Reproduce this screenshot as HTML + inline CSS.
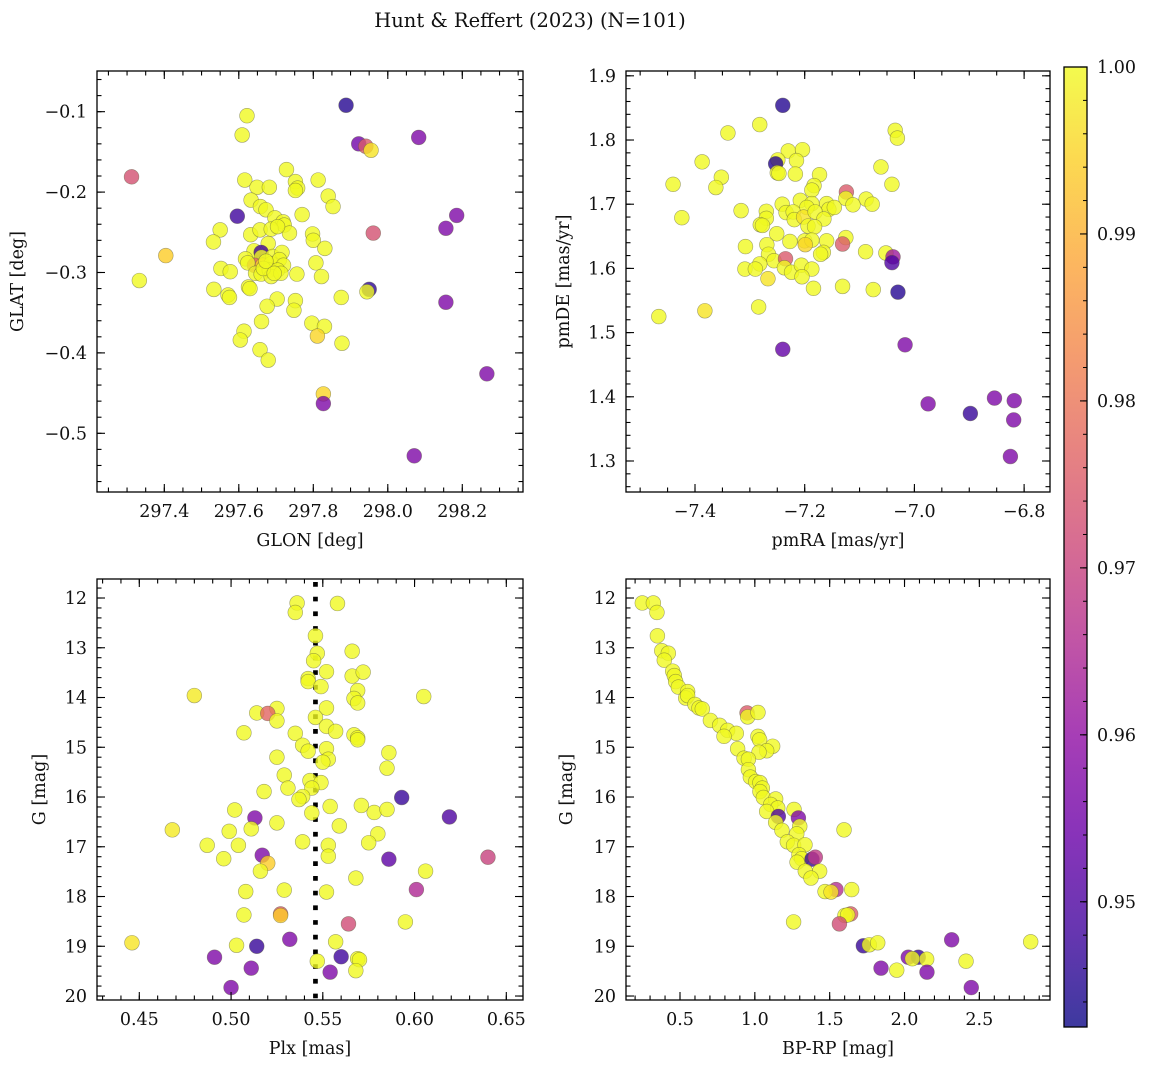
<!DOCTYPE html>
<html><head><meta charset="utf-8">
<style>
html,body{margin:0;padding:0;background:#fff;}
svg{display:block;font-family:"DejaVu Serif","Liberation Serif",serif;}
</style></head>
<body>
<svg id="fig" width="1149" height="1067" viewBox="0 0 1149 1067" xmlns="http://www.w3.org/2000/svg">
<rect width="1149" height="1067" fill="#fff"/>
<text x="530" y="27" font-size="19.5" text-anchor="middle" fill="#111">Hunt &amp; Reffert (2023) (N=101)</text>
</svg>
<script>
// ---- Panel 1: GLON vs GLAT ----
const glon = [297.888,297.622,297.609,297.922,297.941,297.955,298.083,297.312,297.728,297.616,297.649,297.682,297.752,297.758,297.752,297.813,297.840,297.853,297.633,297.658,297.673,297.596,297.770,298.185,298.156,297.961,297.697,297.719,297.722,297.736,297.550,297.532,297.632,297.657,297.687,297.704,297.679,297.798,297.800,297.831,297.404,297.333,297.641,297.660,297.618,297.661,297.691,297.716,297.642,297.664,297.687,297.709,297.720,297.624,297.645,297.660,297.682,297.704,297.687,297.713,297.552,297.577,297.756,297.807,297.822,297.533,297.571,297.575,297.626,297.630,297.950,297.944,297.875,297.703,297.752,297.676,297.748,298.156,297.661,297.796,297.830,297.614,297.604,297.811,297.877,297.657,297.679,297.827,297.827,298.266,298.071,297.666,297.695,297.673];
const glat = [-0.092,-0.105,-0.129,-0.140,-0.143,-0.148,-0.132,-0.181,-0.172,-0.185,-0.194,-0.194,-0.187,-0.195,-0.198,-0.185,-0.205,-0.218,-0.210,-0.218,-0.222,-0.230,-0.228,-0.229,-0.245,-0.251,-0.232,-0.237,-0.241,-0.251,-0.247,-0.262,-0.253,-0.247,-0.246,-0.243,-0.264,-0.252,-0.260,-0.270,-0.279,-0.310,-0.273,-0.275,-0.283,-0.281,-0.280,-0.275,-0.291,-0.291,-0.289,-0.284,-0.291,-0.288,-0.301,-0.302,-0.297,-0.297,-0.305,-0.301,-0.295,-0.299,-0.302,-0.288,-0.305,-0.321,-0.328,-0.331,-0.318,-0.320,-0.321,-0.324,-0.331,-0.333,-0.335,-0.342,-0.347,-0.337,-0.361,-0.363,-0.367,-0.373,-0.384,-0.379,-0.388,-0.396,-0.409,-0.451,-0.463,-0.426,-0.528,-0.295,-0.301,-0.286];
const prob1 = [0.945,1,1,0.955,0.975,0.997,0.957,0.973,1,1,1,1,1,1,1,1,1,1,1,1,1,0.948,1,0.957,0.957,0.973,1,1,1,1,1,1,1,1,1,1,1,1,1,1,0.994,1,1,0.948,1,1,1,1,0.975,0.994,1,1,1,1,1,1,1,1,1,1,1,1,1,1,1,1,1,1,1,1,0.946,1,1,1,1,1,1,0.957,1,1,1,1,1,0.995,1,1,1,0.995,0.957,0.957,0.957,1,1,1];

// ---- Panel 2: pmRA vs pmDE ----
const pmra = [-7.240,-7.282,-7.340,-7.035,-7.031,-7.387,-7.230,-7.204,-7.249,-7.253,-7.215,-7.250,-7.247,-7.217,-7.061,-7.440,-7.352,-7.362,-7.173,-7.183,-7.187,-7.041,-7.124,-7.125,-7.088,-7.077,-7.112,-7.424,-7.316,-7.241,-7.208,-7.187,-7.196,-7.160,-7.156,-7.146,-7.270,-7.270,-7.234,-7.221,-7.219,-7.202,-7.181,-7.165,-7.281,-7.277,-7.194,-7.182,-7.251,-7.227,-7.200,-7.187,-7.160,-7.125,-7.131,-7.308,-7.269,-7.266,-7.199,-7.256,-7.235,-7.166,-7.171,-7.089,-7.052,-7.039,-7.041,-7.282,-7.309,-7.290,-7.237,-7.224,-7.206,-7.187,-7.205,-7.267,-7.184,-7.131,-7.075,-7.030,-7.284,-7.466,-7.382,-7.240,-7.017,-6.975,-6.898,-6.854,-6.818,-6.819,-6.825];
const pmde = [1.854,1.824,1.811,1.815,1.803,1.766,1.783,1.785,1.769,1.763,1.768,1.749,1.748,1.747,1.758,1.731,1.742,1.726,1.746,1.729,1.722,1.731,1.719,1.709,1.708,1.700,1.699,1.679,1.690,1.700,1.706,1.701,1.695,1.701,1.692,1.695,1.689,1.678,1.687,1.688,1.676,1.680,1.688,1.677,1.668,1.667,1.666,1.665,1.654,1.642,1.643,1.644,1.643,1.648,1.638,1.634,1.637,1.622,1.637,1.612,1.615,1.625,1.622,1.626,1.624,1.618,1.609,1.607,1.599,1.599,1.601,1.594,1.605,1.599,1.587,1.584,1.569,1.572,1.567,1.563,1.540,1.525,1.534,1.474,1.481,1.389,1.374,1.398,1.394,1.364,1.307];
const prob2 = [0.945,1,1,1,1,1,1,1,1,0.945,1,1,1,1,1,1,1,1,1,1,1,1,0.975,1,1,1,1,1,1,1,1,1,1,1,1,1,1,1,1,1,1,0.997,1,1,1,1,1,1,1,1,1,1,1,1,0.975,1,1,1,0.995,1,0.975,1,1,1,1,0.962,0.95,1,1,1,1,1,1,1,1,0.997,1,1,1,0.945,1,1,0.997,0.953,0.957,0.957,0.947,0.957,0.957,0.957,0.957];

// ---- Panel 3: Plx vs G ----
const plx = [0.536,0.558,0.535,0.546,0.547,0.545,0.566,0.552,0.566,0.572,0.542,0.542,0.549,0.569,0.480,0.605,0.567,0.569,0.525,0.552,0.514,0.520,0.525,0.546,0.552,0.557,0.507,0.535,0.567,0.569,0.569,0.539,0.542,0.552,0.553,0.550,0.586,0.525,0.585,0.529,0.543,0.549,0.531,0.544,0.518,0.539,0.537,0.593,0.502,0.544,0.554,0.571,0.578,0.585,0.513,0.619,0.525,0.468,0.499,0.511,0.559,0.580,0.487,0.504,0.539,0.553,0.575,0.496,0.517,0.520,0.553,0.586,0.640,0.516,0.606,0.568,0.508,0.529,0.552,0.601,0.527,0.527,0.507,0.564,0.595,0.446,0.532,0.557,0.503,0.514,0.491,0.560,0.547,0.569,0.570,0.511,0.554,0.568,0.500];
const gmag3 = [12.10,12.11,12.29,12.76,13.11,13.26,13.07,13.48,13.57,13.49,13.62,13.68,13.78,13.86,13.96,13.98,14.02,14.11,14.22,14.21,14.31,14.32,14.47,14.40,14.58,14.68,14.71,14.72,14.75,14.81,14.85,14.96,15.08,15.03,15.24,15.30,15.11,15.20,15.42,15.56,15.67,15.71,15.82,15.82,15.89,15.99,16.05,16.01,16.26,16.32,16.19,16.17,16.31,16.25,16.42,16.40,16.52,16.66,16.69,16.64,16.58,16.74,16.97,16.97,16.90,16.97,16.92,17.24,17.17,17.33,17.19,17.25,17.21,17.49,17.49,17.63,17.90,17.87,17.91,17.86,18.35,18.38,18.37,18.55,18.51,18.93,18.86,18.91,18.98,19.00,19.22,19.21,19.30,19.25,19.27,19.44,19.52,19.49,19.83];
const prob3 = [1,1,1,1,1,1,1,1,1,1,1,1,1,1,0.998,1,1,1,1,1,1,0.977,1,1,1,1,1,1,1,1,1,1,1,1,1,1,1,1,1,1,1,1,1,1,1,1,1,0.947,1,1,1,1,1,1,0.957,0.95,1,0.998,1,1,1,1,1,1,1,1,1,1,0.957,0.994,1,0.952,0.970,1,1,1,1,1,1,0.965,0.975,0.994,1,0.972,1,0.997,0.957,1,1,0.947,0.957,0.948,1,1,1,0.957,0.957,1,0.957];

// ---- Panel 4: BP-RP vs G ----
const bprp = [0.248,0.322,0.346,0.349,0.378,0.422,0.395,0.451,0.462,0.471,0.489,0.551,0.538,0.551,0.600,0.627,0.649,0.948,0.952,1.021,0.703,0.765,0.818,0.876,0.794,1.021,1.032,0.885,1.119,1.079,1.028,0.928,0.957,0.957,0.970,1.006,1.034,1.050,1.034,1.057,1.139,1.106,1.153,1.079,1.157,1.139,1.262,1.291,1.300,1.280,1.181,1.596,1.217,1.259,1.335,1.295,1.313,1.282,1.382,1.404,1.337,1.433,1.375,1.542,1.469,1.509,1.647,1.640,1.602,1.620,1.565,1.259,1.725,1.765,1.821,2.315,2.843,2.025,2.092,2.052,2.148,2.411,1.843,1.948,2.150,2.446];
const gmag4 = [12.10,12.10,12.29,12.76,13.06,13.11,13.25,13.47,13.56,13.68,13.79,13.88,14.01,13.96,14.14,14.21,14.23,14.31,14.39,14.30,14.46,14.56,14.66,14.72,14.78,14.78,14.85,15.03,14.98,15.07,15.10,15.22,15.24,15.45,15.60,15.69,15.71,15.82,15.89,16.01,16.04,16.15,16.22,16.29,16.39,16.51,16.25,16.42,16.59,16.74,16.67,16.66,16.90,16.97,16.96,17.16,17.24,17.31,17.25,17.21,17.49,17.49,17.63,17.86,17.90,17.91,17.86,18.35,18.38,18.37,18.55,18.51,18.99,18.97,18.93,18.87,18.91,19.22,19.22,19.25,19.26,19.30,19.44,19.48,19.52,19.83];
const prob4 = [1,1,1,1,1,1,1,1,1,1,1,1,1,1,1,1,1,0.975,1,1,1,1,1,1,1,1,1,1,1,1,1,1,1,1,1,1,1,1,1,1,1,1,1,1,0.95,1,1,0.957,1,1,1,1,1,1,1,1,1,1,0.947,0.968,1,1,1,0.966,1,0.997,1,0.975,1,1,0.972,1,0.947,1,1,0.957,1,0.957,0.947,1,1,1,0.957,1,0.957,0.957];

// ---- Tick labels ----
const p1xTicks = [297.4,297.6,297.8,298.0,298.2];
const p1yTicks = [-0.1,-0.2,-0.3,-0.4,-0.5];
const p2xTicks = [-7.4,-7.2,-7.0,-6.8];
const p2yTicks = [1.3,1.4,1.5,1.6,1.7,1.8,1.9];
const p3xTicks = [0.45,0.50,0.55,0.60,0.65];
const gTicks = [12,13,14,15,16,17,18,19,20];
const p4xTicks = [0.5,1.0,1.5,2.0,2.5];
const cbTicks = [0.95,0.96,0.97,0.98,0.99,1.00];
const plxRef = [0.546];

const NS = "http://www.w3.org/2000/svg";
const svg = document.getElementById('fig');
function mk(tag, attrs, parent){const e=document.createElementNS(NS,tag);for(const k in attrs)e.setAttribute(k,attrs[k]);(parent||svg).appendChild(e);return e;}

const VMIN=0.9425, VMAX=1.0;
const plasma=[[13,8,135],[65,4,157],[106,0,168],[143,13,164],[177,42,144],[204,71,120],[225,100,98],[242,132,75],[252,166,54],[252,206,37],[240,249,33]];
function cmap(v){let t=(v-VMIN)/(VMAX-VMIN);t=Math.max(0,Math.min(1,t));const f=t*10;const i=Math.min(9,Math.floor(f));const r=f-i;const a=plasma[i],b=plasma[i+1];return 'rgb('+[0,1,2].map(k=>Math.round(a[k]+(b[k]-a[k])*r)).join(',')+')';}
function fmt(v,d){return (v<0?'\u2212':'')+Math.abs(v).toFixed(d);}

function panel(o){
  const g=mk('g',{});
  
  
  const X=v=>o.L+(v-o.x0)/(o.x1-o.x0)*(o.R-o.L);
  const Y=v=>o.T+(v-o.y0)/(o.y1-o.y0)*(o.B-o.T);
  const clipId='clip-'+o.name;
  const cp=mk('clipPath',{id:clipId},g);mk('rect',{x:o.L,y:o.T,width:o.R-o.L,height:o.B-o.T},cp);
  const pts=mk('g',{'clip-path':'url(#'+clipId+')'},g);
  
  
  if(o.vline){for(const v of o.vline){const l=mk('line',{x1:X(v),x2:X(v),y1:o.T,y2:o.B,stroke:'#000','stroke-width':4.7,'stroke-dasharray':'4.7 10','stroke-dashoffset':-3},pts);
    
    }}
  for(let i=0;i<o.xs.length;i++){
    const c=mk('circle',{cx:X(o.xs[i]),cy:Y(o.ys[i]),r:7.4,fill:cmap(o.ps[i]),'fill-opacity':0.8,stroke:'rgba(90,90,60,0.55)','stroke-width':0.6},pts);
    
    
  }
  const tk=mk('g',{stroke:'#000','stroke-width':1.1},g);
  function xt(v,len){const x=X(v);if(x<o.L-0.5||x>o.R+0.5)return;mk('line',{x1:x,x2:x,y1:o.B,y2:o.B-len},tk);mk('line',{x1:x,x2:x,y1:o.T,y2:o.T+len},tk);}
  function yt(v,len){const y=Y(v);if(y<o.T-0.5||y>o.B+0.5)return;mk('line',{x1:o.L,x2:o.L+len,y1:y,y2:y},tk);mk('line',{x1:o.R,x2:o.R-len,y1:y,y2:y},tk);}
  const lo=Math.min(o.x0,o.x1),hi=Math.max(o.x0,o.x1);
  for(let v=Math.ceil(lo/o.xm)*o.xm;v<=hi;v+=o.xm)xt(v,4.5);
  const ylo=Math.min(o.y0,o.y1),yhi=Math.max(o.y0,o.y1);
  for(let v=Math.ceil(ylo/o.ym)*o.ym;v<=yhi;v+=o.ym)yt(v,4.5);
  for(const v of o.xt){xt(v,8);const t=mk('text',{x:X(v),y:o.B+25,'font-size':17.5,'text-anchor':'middle',fill:'#111'},g);t.textContent=fmt(v,o.xd);
    }
  for(const v of o.yt){yt(v,8);const t=mk('text',{x:o.L-10,y:Y(v)+6,'font-size':17.5,'text-anchor':'end',fill:'#111'},g);t.textContent=fmt(v,o.yd);
    }
  mk('rect',{x:o.L,y:o.T,width:o.R-o.L,height:o.B-o.T,fill:'none',stroke:'#000','stroke-width':1.3},g);
  const xl=mk('text',{x:(o.L+o.R)/2,y:o.B+54,'font-size':17.5,'text-anchor':'middle',fill:'#111'},g);xl.textContent=o.xlabel;
  
  const yl=mk('text',{x:o.ylx,y:(o.T+o.B)/2,'font-size':17.5,'text-anchor':'middle',fill:'#111',transform:'rotate(-90 '+o.ylx+' '+((o.T+o.B)/2)+')'},g);yl.textContent=o.ylabel;
  
}

panel({name:'glon-glat-panel',L:97,R:523,T:71,B:492,x0:297.2193,x1:298.363,y0:-0.0494,y1:-0.573,xs:glon,ys:glat,ps:prob1,xt:p1xTicks,yt:p1yTicks,xd:1,yd:1,xm:0.05,ym:0.02,xlabel:'GLON [deg]',ylabel:'GLAT [deg]',ylx:23});
panel({name:'pmra-pmde-panel',L:626,R:1050,T:71,B:492,x0:-7.5258,x1:-6.7528,y0:1.9075,y1:1.2517,xs:pmra,ys:pmde,ps:prob2,xt:p2xTicks,yt:p2yTicks,xd:1,yd:1,xm:0.05,ym:0.02,xlabel:'pmRA [mas/yr]',ylabel:'pmDE [mas/yr]',ylx:569});
panel({name:'plx-g-panel',L:97,R:523,T:579,B:1000,x0:0.42695,x1:0.6591,y0:11.618,y1:20.08,xs:plx,ys:gmag3,ps:prob3,xt:p3xTicks,yt:gTicks,xd:2,yd:0,xm:0.01,ym:0.2,xlabel:'Plx [mas]',ylabel:'G [mag]',ylx:45,vline:plxRef});
panel({name:'bprp-g-panel',L:626,R:1050,T:579,B:1000,x0:0.1392,x1:2.972,y0:11.618,y1:20.08,xs:bprp,ys:gmag4,ps:prob4,xt:p4xTicks,yt:gTicks,xd:1,yd:0,xm:0.1,ym:0.2,xlabel:'BP-RP [mag]',ylabel:'G [mag]',ylx:572});

// ---- Colorbar ----
(function(){
  const L=1064,R=1087,T=67,B=1027;
  const g=mk('g',{});
  
  
  const defs=mk('defs',{},g);
  const lg=mk('linearGradient',{id:'cbgrad',x1:0,y1:1,x2:0,y2:0},defs);
  for(let i=0;i<=10;i++){mk('stop',{offset:(i/10),'stop-color':'rgb('+plasma[i].join(',')+')'},lg);}
  const r=mk('rect',{x:L,y:T,width:R-L,height:B-T,fill:'url(#cbgrad)','fill-opacity':0.8},g);
  
  const Y=v=>B-(v-VMIN)/(VMAX-VMIN)*(B-T);
  for(let v=0.944;v<=1.0001;v+=0.002){mk('line',{x1:R,x2:R-4,y1:Y(v),y2:Y(v),stroke:'#000','stroke-width':1},g);}
  for(const v of cbTicks){mk('line',{x1:R,x2:R-7,y1:Y(v),y2:Y(v),stroke:'#000','stroke-width':1.1},g);
    const t=mk('text',{x:R+10,y:Y(v)+6,'font-size':17.5,fill:'#111'},g);t.textContent=v.toFixed(2);
    }
  mk('rect',{x:L,y:T,width:R-L,height:B-T,fill:'none',stroke:'#000','stroke-width':1.3},g);
})();
</script>
</body></html>
